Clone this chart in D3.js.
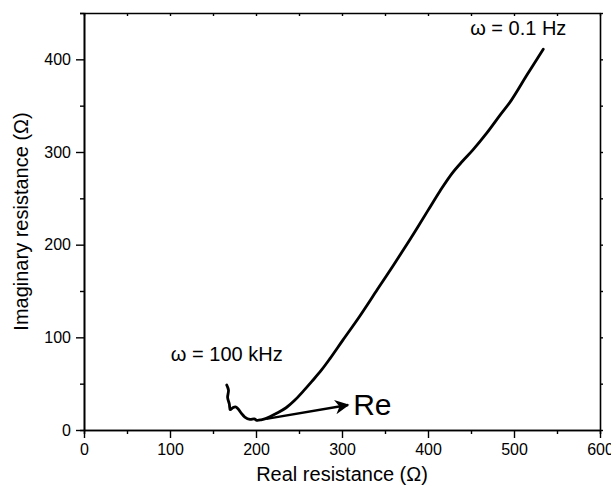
<!DOCTYPE html>
<html>
<head>
<meta charset="utf-8">
<script src="https://cdn.jsdelivr.net/npm/d3@7"></script>
<style>
  body { margin: 0; background: #fff; }
  text { font-family: Arial, "Liberation Sans", sans-serif; fill: #000; }
</style>
</head>
<body>
<svg id="chart"></svg>
<script>
// Nyquist curve (real part, imaginary part in ohm)
const realPart = [166, 168, 167, 169, 170, 173, 176, 179, 183, 187, 193, 198, 201, 206, 212,
    224, 235, 245, 255, 265, 276, 286, 301, 320, 340, 360, 380, 400, 414, 428,
    440, 452, 468, 484, 497, 515, 534];
const imagPart = [48.5, 43, 35, 28, 22, 24, 25, 23, 18, 14, 11.5, 12, 10.5, 11, 12.5,
    18, 24, 32, 42, 52.5, 64.5, 77, 97, 122, 150, 178, 207, 237, 258, 277,
    290, 302, 320, 340, 356, 383, 411];

const xTicks = [0, 100, 200, 300, 400, 500, 600];
const yTicks = [0, 100, 200, 300, 400];

// annotations: [x, y] in data units
const arrowFrom = [212, 12];
const arrowTo = [307, 27];
const labels = [
    { text: "ω = 100 kHz", x: 101, y: 74, size: 20 },
    { text: "ω = 0.1 Hz", x: 449, y: 426, size: 20 },
    { text: "Re", x: 313, y: 16, size: 30 }
];

const margin = { top: 13, right: 11, bottom: 63, left: 84 },
    width = 611 - margin.left - margin.right,
    height = 493 - margin.top - margin.bottom;

const svg = d3.select("#chart")
    .attr("width", width + margin.left + margin.right)
    .attr("height", height + margin.top + margin.bottom)
    .append("g")
    .attr("transform", `translate(${margin.left},${margin.top})`);

const x = d3.scaleLinear().domain([0, 600]).range([0, width]);
const y = d3.scaleLinear().domain([0, 450]).range([height, 0]);

const minorX = d3.range(0, 601, 50);
const minorY = d3.range(0, 451, 50);

// bottom axis
const gx = svg.append("g")
    .attr("transform", `translate(0,${height})`)
    .call(d3.axisBottom(x).tickValues(xTicks).tickSize(8).tickSizeOuter(0).tickPadding(6));
gx.append("g").call(d3.axisBottom(x).tickValues(minorX.filter(v => v % 100)).tickSize(4).tickFormat(""));

// left axis
const gy = svg.append("g")
    .call(d3.axisLeft(y).tickValues(yTicks).tickSize(8).tickSizeOuter(0).tickPadding(5));
gy.append("g").call(d3.axisLeft(y).tickValues(minorY.filter(v => v % 100)).tickSize(4).tickFormat(""));

// top and right axes, no labels
svg.append("g")
    .call(d3.axisTop(x).tickValues(minorX).tickSize(-3).tickSizeOuter(0).tickFormat(""));
svg.append("g")
    .attr("transform", `translate(${width},0)`)
    .call(d3.axisRight(y).tickValues(minorY).tickSize(3).tickSizeOuter(0).tickFormat(""));

svg.selectAll(".domain").attr("stroke", "#000").attr("stroke-width", 1.6);
svg.selectAll(".tick line").attr("stroke", "#000").attr("stroke-width", 1.4);
svg.selectAll(".tick text").style("font-size", "16px").attr("fill", "#000");
svg.selectAll(".tick text").filter(function() { return this.textContent === ""; }).remove();

// axis titles
svg.append("text")
    .attr("x", width / 2)
    .attr("y", height + 51)
    .attr("text-anchor", "middle")
    .style("font-size", "20px")
    .text("Real resistance (Ω)");

svg.append("text")
    .attr("transform", "rotate(-90)")
    .attr("x", -height / 2)
    .attr("y", -margin.left + 28)
    .attr("text-anchor", "middle")
    .style("font-size", "20px")
    .text("Imaginary resistance (Ω)");

// curve
const pts = realPart.map((r, i) => [r, imagPart[i]]);
svg.append("path")
    .datum(pts)
    .attr("fill", "none")
    .attr("stroke", "#000")
    .attr("stroke-width", 2.8)
    .attr("stroke-linejoin", "round")
    .attr("stroke-linecap", "round")
    .attr("d", d3.line()
        .x(d => x(d[0]))
        .y(d => y(d[1]))
        .curve(d3.curveCatmullRom.alpha(0.5)));

// arrow along the real axis direction
svg.append("defs").append("marker")
    .attr("id", "head")
    .attr("viewBox", "0 0 10 10")
    .attr("refX", 9)
    .attr("refY", 5)
    .attr("markerWidth", 7)
    .attr("markerHeight", 6)
    .attr("markerUnits", "strokeWidth")
    .attr("orient", "auto")
    .append("path")
    .attr("d", "M0,0 L10,5 L0,10 L3,5 Z")
    .attr("fill", "#000");

svg.append("line")
    .attr("x1", x(arrowFrom[0]))
    .attr("y1", y(arrowFrom[1]))
    .attr("x2", x(arrowTo[0]))
    .attr("y2", y(arrowTo[1]))
    .attr("stroke", "#000")
    .attr("stroke-width", 2.4)
    .attr("marker-end", "url(#head)");

svg.selectAll(".note")
    .data(labels)
    .enter()
    .append("text")
    .attr("class", "note")
    .attr("x", d => x(d.x))
    .attr("y", d => y(d.y))
    .style("font-size", d => d.size + "px")
    .text(d => d.text);
</script>
</body>
</html>
